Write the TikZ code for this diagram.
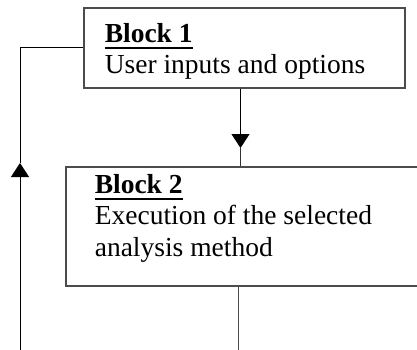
\documentclass[tikz,border=0pt]{standalone}
\usepackage{fontspec}
\setmainfont{Liberation Serif}
\usetikzlibrary{arrows.meta}

\newcommand{\blockhead}[1]{\setbox0\hbox{\bfseries #1}\rlap{\rule[-6.6pt]{\wd0}{2pt}}\box0}

\tikzset{
  box/.style={draw=black!70, line width=1.2pt, inner sep=0pt},
  txt/.style={anchor=north west, inner sep=0pt, align=left, font=\fontsize{27.5}{31.5}\selectfont},
  link/.style={line width=1pt},
  tip/.style={-{Triangle[width=18pt,length=14pt]}}
}

\begin{document}
\begin{tikzpicture}[x=1pt,y=-1pt]
  \useasboundingbox (0,0) rectangle (417,350);
  \clip (0,0) rectangle (417,350);
  \node [box, minimum width=321pt, minimum height=80pt] (1) at (244.5,48) {};
  \node [box, minimum width=374pt, minimum height=119pt] (2) at (253,226.5) {};
  \node [txt] (1t) at (104.6,23) {\blockhead{Block 1}\\User inputs and options};
  \node [txt] (2t) at (94.6,174) {\blockhead{Block 2}\\Execution of the selected\\analysis method};
  \coordinate (3) at (240.5,148);
  \coordinate (4) at (20,163);
  \coordinate (5) at (20,350);
  \coordinate (6) at (238,350);
  \draw [link, tip] (1.south -| 3) to (3);
  \draw [link, black!80] (3) to (3 |- 2.north);
  \draw [link, tip] (5) to (4);
  \draw [link] (4) |- (1.west);
  \draw [link, black!70] (2.south -| 6) to (6);
\end{tikzpicture}
\end{document}
